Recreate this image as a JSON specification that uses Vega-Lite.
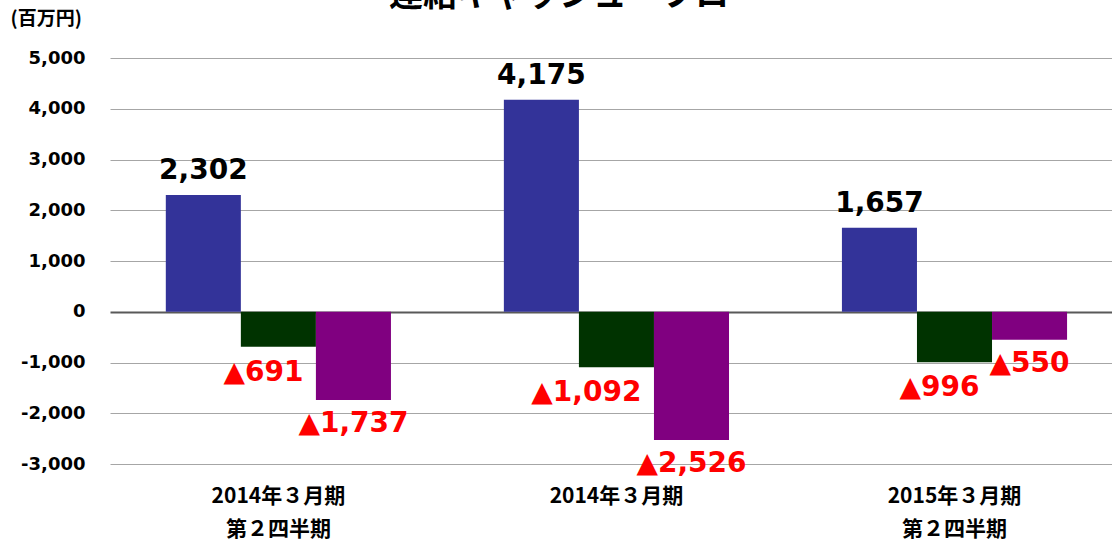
{
  "$schema": "https://vega.github.io/schema/vega-lite/v6.json",
  "autosize": "none",
  "width": 1002,
  "height": 406,
  "padding": {"left": 110, "top": 58, "right": 0, "bottom": 76},
  "background": "white",
  "title": {
    "text": "連結キャッシュ・フロー",
    "font": "Noto Sans CJK JP",
    "fontSize": 34,
    "fontWeight": "bold",
    "color": "black",
    "anchor": "middle",
    "baseline": "bottom",
    "offset": -38,
    "dx": -35
  },
  "data": {
    "values": [
      {"period": "2014年３月期|第２四半期", "series": "営業活動", "value": 2302, "label": "2,302"},
      {"period": "2014年３月期|第２四半期", "series": "投資活動", "value": -691, "label": "▲691"},
      {"period": "2014年３月期|第２四半期", "series": "財務活動", "value": -1737, "label": "▲1,737"},
      {"period": "2014年３月期", "series": "営業活動", "value": 4175, "label": "4,175"},
      {"period": "2014年３月期", "series": "投資活動", "value": -1092, "label": "▲1,092"},
      {"period": "2014年３月期", "series": "財務活動", "value": -2526, "label": "▲2,526"},
      {"period": "2015年３月期|第２四半期", "series": "営業活動", "value": 1657, "label": "1,657"},
      {"period": "2015年３月期|第２四半期", "series": "投資活動", "value": -996, "label": "▲996"},
      {"period": "2015年３月期|第２四半期", "series": "財務活動", "value": -550, "label": "▲550"}
    ]
  },
  "encoding": {
    "x": {
      "field": "period",
      "type": "nominal",
      "sort": null,
      "scale": {"paddingInner": 0.334, "paddingOuter": 0.149, "align": 0.554},
      "axis": {
        "title": null,
        "labelAngle": 0,
        "labelExpr": "split(datum.label, '|')",
        "labelFont": "Noto Sans CJK JP",
        "labelFontSize": 21,
        "labelFontWeight": "bold",
        "labelColor": "black",
        "labelLineHeight": 33,
        "labelBaseline": "top",
        "labelPadding": 21,
        "domain": false,
        "ticks": false,
        "grid": false
      }
    },
    "xOffset": {
      "field": "series",
      "type": "nominal",
      "sort": ["営業活動", "投資活動", "財務活動"],
      "scale": {"paddingInner": 0, "paddingOuter": 0}
    },
    "y": {
      "field": "value",
      "type": "quantitative",
      "scale": {"domain": [-3000, 5000], "nice": false, "zero": false},
      "axis": {
        "values": [-3000, -2000, -1000, 0, 1000, 2000, 3000, 4000, 5000],
        "labelExpr": "replace(format(datum.value, ','), '−', '-')",
        "title": "(百万円)",
        "titleAngle": 0,
        "titleAlign": "left",
        "titleBaseline": "middle",
        "titleX": -100,
        "titleY": -40,
        "titleFont": "Noto Sans CJK JP",
        "titleFontSize": 19,
        "titleFontWeight": "bold",
        "titleColor": "black",
        "labelFont": "DejaVu Sans",
        "labelFontSize": 18,
        "labelFontWeight": "bold",
        "labelColor": "black",
        "labelPadding": 25,
        "domain": false,
        "ticks": false,
        "grid": true,
        "gridColor": {"condition": {"test": "datum.value === 0", "value": "#595959"}, "value": "#a6a6a6"},
        "gridWidth": {"condition": {"test": "datum.value === 0", "value": 2}, "value": 1}
      }
    }
  },
  "layer": [
    {
      "mark": {"type": "bar"},
      "encoding": {
        "color": {
          "field": "series",
          "type": "nominal",
          "scale": {"domain": ["営業活動", "投資活動", "財務活動"], "range": ["#333399", "#003300", "#800080"]},
          "legend": null
        }
      }
    },
    {
      "transform": [{"filter": "datum.value > 0"}],
      "mark": {"type": "text", "baseline": "bottom", "dy": -10, "font": "DejaVu Sans", "fontSize": 28, "fontWeight": "bold", "color": "black"},
      "encoding": {"text": {"field": "label"}}
    },
    {
      "transform": [{"filter": "datum.series === '投資活動'"}],
      "mark": {"type": "text", "baseline": "top", "align": "right", "dx": 25, "dy": 12, "font": "DejaVu Sans", "fontSize": 28, "fontWeight": "bold", "color": "#ff0000"},
      "encoding": {"text": {"field": "label"}}
    },
    {
      "transform": [{"filter": "datum.series === '財務活動'"}],
      "mark": {"type": "text", "baseline": "top", "dy": 10, "font": "DejaVu Sans", "fontSize": 28, "fontWeight": "bold", "color": "#ff0000"},
      "encoding": {"text": {"field": "label"}}
    }
  ],
  "config": {"view": {"stroke": null}}
}
